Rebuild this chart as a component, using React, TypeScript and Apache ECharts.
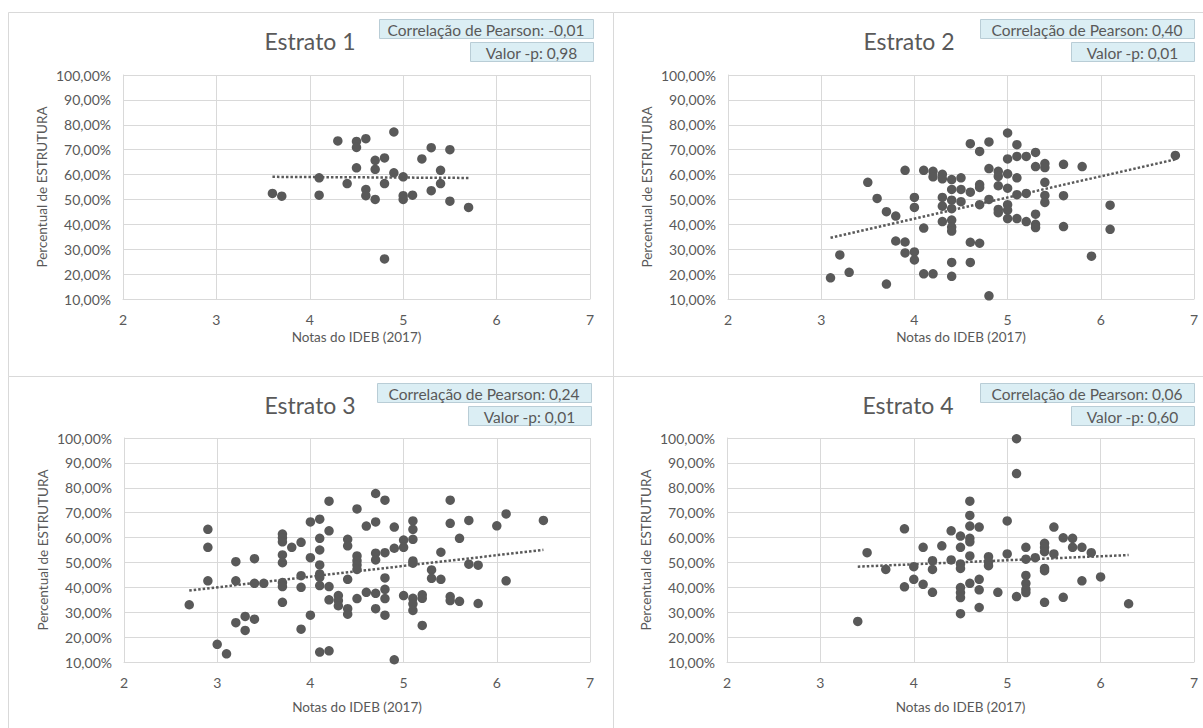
import React, { useEffect, useRef } from 'react';
import * as echarts from 'echarts';

// ---------- DATA ----------
const stratumTitles = ['Estrato 1', 'Estrato 2', 'Estrato 3', 'Estrato 4'];
const pearsonLabels = ['-0,01', '0,40', '0,24', '0,06'];
const pValueLabels = ['0,98', '0,01', '0,01', '0,60'];
const xAxisName = 'Notas do IDEB (2017)';
const yAxisName = 'Percentual de ESTRUTURA';

// [nota IDEB, percentual de ESTRUTURA (%)]
const estrato1: [number, number][] = [
  [3.6, 52.4], [3.7, 51.3], [4.1, 58.7], [4.1, 51.7], [4.3, 73.5], [4.5, 73.3], [4.5, 70.9],
  [4.6, 74.4], [4.5, 62.7], [4.4, 56.4], [4.6, 54.0], [4.6, 51.5], [4.7, 65.7], [4.7, 62.1],
  [4.7, 50.0], [4.8, 66.7], [4.8, 56.4], [4.8, 26.1], [4.9, 77.1], [4.9, 60.7], [5.0, 59.1],
  [5.0, 51.5], [5.0, 50.0], [5.1, 51.7], [5.2, 66.3], [5.3, 70.8], [5.3, 53.5], [5.4, 61.7],
  [5.4, 56.4], [5.5, 70.0], [5.5, 49.3], [5.7, 46.8],
];

const estrato2: [number, number][] = [
  [3.1, 18.5], [3.3, 20.7], [3.2, 27.7], [3.7, 16.0], [3.5, 56.9], [3.6, 50.4], [3.7, 45.1],
  [3.8, 43.3], [3.8, 33.3], [3.9, 32.9], [3.9, 61.7], [3.9, 28.5], [4.0, 50.8], [4.0, 46.8],
  [4.0, 28.9], [4.0, 25.7], [4.1, 61.7], [4.1, 38.5], [4.1, 20.1], [4.2, 61.3], [4.2, 59.1],
  [4.2, 20.1], [4.3, 60.1], [4.3, 58.3], [4.3, 50.8], [4.3, 47.3], [4.3, 41.1], [4.4, 58.0],
  [4.4, 54.0], [4.4, 49.7], [4.4, 46.3], [4.4, 41.7], [4.4, 38.9], [4.4, 37.3], [4.4, 24.7],
  [4.4, 19.1], [4.5, 58.7], [4.5, 54.0], [4.5, 49.1], [4.6, 72.4], [4.6, 52.9], [4.6, 32.8],
  [4.6, 24.7], [4.7, 69.3], [4.7, 56.0], [4.7, 54.8], [4.7, 47.9], [4.7, 32.4], [4.8, 73.1],
  [4.8, 62.4], [4.8, 50.0], [4.8, 11.3], [4.9, 61.3], [4.9, 59.3], [4.9, 55.5], [4.9, 46.0],
  [4.9, 44.7], [5.0, 76.7], [5.0, 66.3], [5.0, 60.3], [5.0, 54.5], [5.0, 47.9], [5.0, 45.7],
  [5.0, 42.3], [5.1, 72.0], [5.1, 67.3], [5.1, 58.7], [5.1, 51.9], [5.1, 42.3], [5.2, 67.3],
  [5.2, 52.4], [5.2, 41.1], [5.3, 68.9], [5.3, 63.2], [5.3, 44.1], [5.3, 40.0], [5.3, 38.7],
  [5.4, 64.4], [5.4, 62.8], [5.4, 56.9], [5.4, 51.6], [5.4, 48.8], [5.6, 64.1], [5.6, 51.5],
  [5.6, 39.1], [5.8, 63.2], [5.9, 27.2], [6.1, 47.7], [6.1, 38.0], [6.8, 67.7],
];

const estrato3: [number, number][] = [
  [2.7, 33.0], [2.9, 63.3], [2.9, 56.1], [2.9, 42.6], [3.0, 17.1], [3.1, 13.3], [3.2, 50.3],
  [3.2, 42.6], [3.2, 25.8], [3.3, 28.3], [3.3, 22.7], [3.4, 51.5], [3.4, 41.6], [3.4, 27.2],
  [3.5, 41.6], [3.7, 61.4], [3.7, 59.9], [3.7, 58.3], [3.7, 53.0], [3.7, 49.9], [3.7, 41.9],
  [3.7, 40.3], [3.7, 34.0], [3.8, 56.1], [3.9, 58.1], [3.9, 44.7], [3.9, 40.0], [3.9, 23.2],
  [4.0, 66.3], [4.0, 51.9], [4.0, 28.8], [4.1, 67.4], [4.1, 59.7], [4.1, 55.0], [4.1, 49.0],
  [4.1, 45.4], [4.1, 44.0], [4.1, 40.7], [4.1, 14.0], [4.2, 74.6], [4.2, 62.7], [4.2, 40.3],
  [4.2, 35.0], [4.2, 14.5], [4.3, 36.7], [4.3, 34.7], [4.3, 32.6], [4.4, 59.3], [4.4, 56.7],
  [4.4, 43.2], [4.4, 31.4], [4.4, 29.2], [4.5, 71.5], [4.5, 52.6], [4.5, 50.7], [4.5, 49.0],
  [4.5, 47.2], [4.5, 35.5], [4.6, 64.6], [4.6, 38.0], [4.7, 77.7], [4.7, 66.3], [4.7, 53.7],
  [4.7, 51.0], [4.7, 37.6], [4.7, 31.4], [4.8, 75.0], [4.8, 53.9], [4.8, 43.8], [4.8, 39.2],
  [4.8, 35.5], [4.8, 28.8], [4.9, 64.2], [4.9, 55.7], [4.9, 10.9], [5.0, 59.0], [5.0, 56.1],
  [5.0, 36.7], [5.1, 66.7], [5.1, 63.3], [5.1, 59.3], [5.1, 50.6], [5.1, 49.7], [5.1, 35.6],
  [5.1, 33.4], [5.1, 30.7], [5.2, 37.0], [5.2, 35.6], [5.2, 24.7], [5.3, 47.0], [5.3, 43.6],
  [5.4, 54.1], [5.4, 43.2], [5.5, 75.0], [5.5, 65.7], [5.5, 36.3], [5.5, 34.7], [5.6, 59.7],
  [5.6, 34.4], [5.7, 66.9], [5.7, 49.3], [5.8, 48.9], [5.8, 33.5], [6.0, 64.7], [6.1, 69.5],
  [6.1, 42.6], [6.5, 66.9],
];

const estrato4: [number, number][] = [
  [3.4, 26.3], [3.5, 53.9], [3.7, 47.2], [3.9, 63.5], [3.9, 40.2], [4.0, 48.3], [4.0, 43.2],
  [4.1, 56.1], [4.1, 41.2], [4.2, 50.7], [4.2, 47.2], [4.2, 38.0], [4.3, 56.7], [4.4, 62.7],
  [4.4, 51.0], [4.5, 60.6], [4.5, 56.1], [4.5, 49.4], [4.5, 47.6], [4.5, 39.9], [4.5, 37.9],
  [4.5, 35.9], [4.5, 29.4], [4.6, 74.6], [4.6, 68.9], [4.6, 64.6], [4.6, 59.7], [4.6, 58.3],
  [4.6, 52.6], [4.6, 41.6], [4.7, 64.2], [4.7, 43.2], [4.7, 39.0], [4.7, 31.9], [4.8, 52.3],
  [4.8, 50.3], [4.8, 48.7], [4.9, 38.0], [5.0, 66.7], [5.0, 53.4], [5.1, 99.7], [5.1, 85.7],
  [5.1, 36.3], [5.2, 56.1], [5.2, 51.3], [5.2, 44.8], [5.2, 41.6], [5.2, 39.2], [5.2, 37.9],
  [5.3, 51.9], [5.4, 57.7], [5.4, 56.1], [5.4, 54.3], [5.4, 47.6], [5.4, 46.7], [5.4, 34.0],
  [5.5, 64.2], [5.5, 53.4], [5.6, 59.9], [5.6, 36.0], [5.7, 59.7], [5.7, 56.1], [5.8, 56.1],
  [5.8, 42.6], [5.9, 53.9], [6.0, 44.2], [6.3, 33.4],
];

const strata = [estrato1, estrato2, estrato3, estrato4];

// ---------- STYLE / LAYOUT ----------
const FONT = 'Lato, "Noto Sans", sans-serif';
const TEXT = '#595959';
const GRID_COLOR = '#d9d9d9';
const DOT = '#595959';

const panels = [
  { x: 8, y: 12, w: 605, h: 364 },
  { x: 613, y: 12, w: 610, h: 364 },
  { x: 8, y: 376, w: 605, h: 370 },
  { x: 613, y: 376, w: 610, h: 370 },
];
const grids = [
  { left: 123, top: 75, width: 467, height: 224 },
  { left: 728, top: 75, width: 466, height: 224 },
  { left: 124, top: 438, width: 466, height: 224 },
  { left: 727, top: 438, width: 467, height: 224 },
];
const xNameGaps = [31, 31, 38, 38];
const titleCenters = [
  { x: 310, y: 41 },
  { x: 909, y: 41 },
  { x: 310, y: 405 },
  { x: 908, y: 405 },
];
const calloutRight = [593, 1194, 591, 1194];
const calloutTop = [19, 19, 383, 383];

function trend(points: [number, number][]): [number, number][] {
  const n = points.length;
  let sx = 0, sy = 0, sxx = 0, sxy = 0;
  let minX = Infinity, maxX = -Infinity;
  for (const [x, y] of points) {
    sx += x; sy += y; sxx += x * x; sxy += x * y;
    if (x < minX) minX = x;
    if (x > maxX) maxX = x;
  }
  const slope = (n * sxy - sx * sy) / (n * sxx - sx * sx);
  const icpt = (sy - slope * sx) / n;
  return [[minX, icpt + slope * minX], [maxX, icpt + slope * maxX]];
}

const pctFmt = (v: number) => v.toFixed(2).replace('.', ',') + '%';

export default function App() {
  const ref = useRef<HTMLDivElement>(null);
  useEffect(() => {
    if (!ref.current) return;
    const chart = echarts.init(ref.current, undefined, { renderer: 'svg' });

    const graphic: any[] = [];
    panels.forEach((p) => {
      graphic.push({
        type: 'rect',
        shape: { x: p.x + 0.5, y: p.y + 0.5, width: p.w, height: p.h },
        style: { fill: '#ffffff', stroke: GRID_COLOR, lineWidth: 1 },
        z: -10,
        silent: true,
      });
    });
    titleCenters.forEach((c, i) => {
      graphic.push({
        type: 'text',
        style: {
          text: stratumTitles[i],
          x: c.x,
          y: c.y,
          align: 'center',
          verticalAlign: 'middle',
          fill: TEXT,
          fontFamily: FONT,
          fontSize: 23,
        },
        silent: true,
      });
    });
    calloutRight.forEach((r, i) => {
      const t = calloutTop[i];
      const w1 = 214;
      const w2 = 123;
      const h = 19;
      graphic.push({
        type: 'rect',
        shape: { x: r - w1 + 0.5, y: t + 0.5, width: w1, height: h },
        style: { fill: '#dbeef4', stroke: '#b9cdd6', lineWidth: 1 },
        silent: true,
      });
      graphic.push({
        type: 'text',
        style: {
          text: 'Correlação de Pearson: ' + pearsonLabels[i],
          x: r - w1 / 2,
          y: t + h / 2 + 1,
          align: 'center',
          verticalAlign: 'middle',
          fill: TEXT,
          fontFamily: FONT,
          fontSize: 15.5,
        },
        silent: true,
      });
      const t2 = t + 23;
      graphic.push({
        type: 'rect',
        shape: { x: r - w2 + 0.5, y: t2 + 0.5, width: w2, height: h },
        style: { fill: '#dbeef4', stroke: '#b9cdd6', lineWidth: 1 },
        silent: true,
      });
      graphic.push({
        type: 'text',
        style: {
          text: 'Valor -p: ' + pValueLabels[i],
          x: r - w2 / 2,
          y: t2 + h / 2 + 1,
          align: 'center',
          verticalAlign: 'middle',
          fill: TEXT,
          fontFamily: FONT,
          fontSize: 15.5,
        },
        silent: true,
      });
    });

    const series: any[] = [];
    strata.forEach((pts, i) => {
      series.push({
        type: 'scatter',
        xAxisIndex: i,
        yAxisIndex: i,
        data: pts,
        symbol: 'circle',
        symbolSize: 9.5,
        itemStyle: { color: DOT, opacity: 1 },
        z: 3,
      });
      series.push({
        type: 'line',
        xAxisIndex: i,
        yAxisIndex: i,
        data: trend(pts),
        showSymbol: false,
        symbol: 'none',
        lineStyle: { color: DOT, width: 2.5, type: [2.5, 2], cap: 'butt' },
        z: 2,
      });
    });

    chart.setOption({
      animation: false,
      backgroundColor: '#ffffff',
      textStyle: { fontFamily: FONT },
      graphic,
      grid: grids.map((g) => ({ ...g, containLabel: false, outerBoundsMode: 'none' })),
      xAxis: grids.map((_, i) => ({
        type: 'value',
        gridIndex: i,
        min: 2,
        max: 7,
        interval: 1,
        name: xAxisName,
        nameLocation: 'middle',
        nameGap: xNameGaps[i],
        nameMoveOverlap: false,
        nameTextStyle: { color: TEXT, fontSize: 13.5, fontFamily: FONT },
        axisLine: { show: true, lineStyle: { color: GRID_COLOR, width: 1 } },
        axisTick: { show: false },
        axisLabel: { color: TEXT, fontSize: 14, fontFamily: FONT, margin: 13 },
        splitLine: { show: true, lineStyle: { color: GRID_COLOR, width: 1 } },
      })),
      yAxis: grids.map((_, i) => ({
        type: 'value',
        gridIndex: i,
        min: 10,
        max: 100,
        interval: 10,
        name: yAxisName,
        nameLocation: 'middle',
        nameGap: 74,
        nameMoveOverlap: false,
        nameTextStyle: { color: TEXT, fontSize: 13.5, fontFamily: FONT },
        axisLine: { show: true, lineStyle: { color: GRID_COLOR, width: 1 } },
        axisTick: { show: false },
        axisLabel: { color: TEXT, fontSize: 14, fontFamily: FONT, margin: 12, formatter: pctFmt },
        splitLine: { show: true, lineStyle: { color: GRID_COLOR, width: 1 } },
      })),
      series,
    });
    return () => chart.dispose();
  }, []);

  return (
    <div
      ref={ref}
      style={{ position: 'fixed', left: 0, top: 0, width: 1203, height: 728, background: '#fff' }}
    />
  );
}
